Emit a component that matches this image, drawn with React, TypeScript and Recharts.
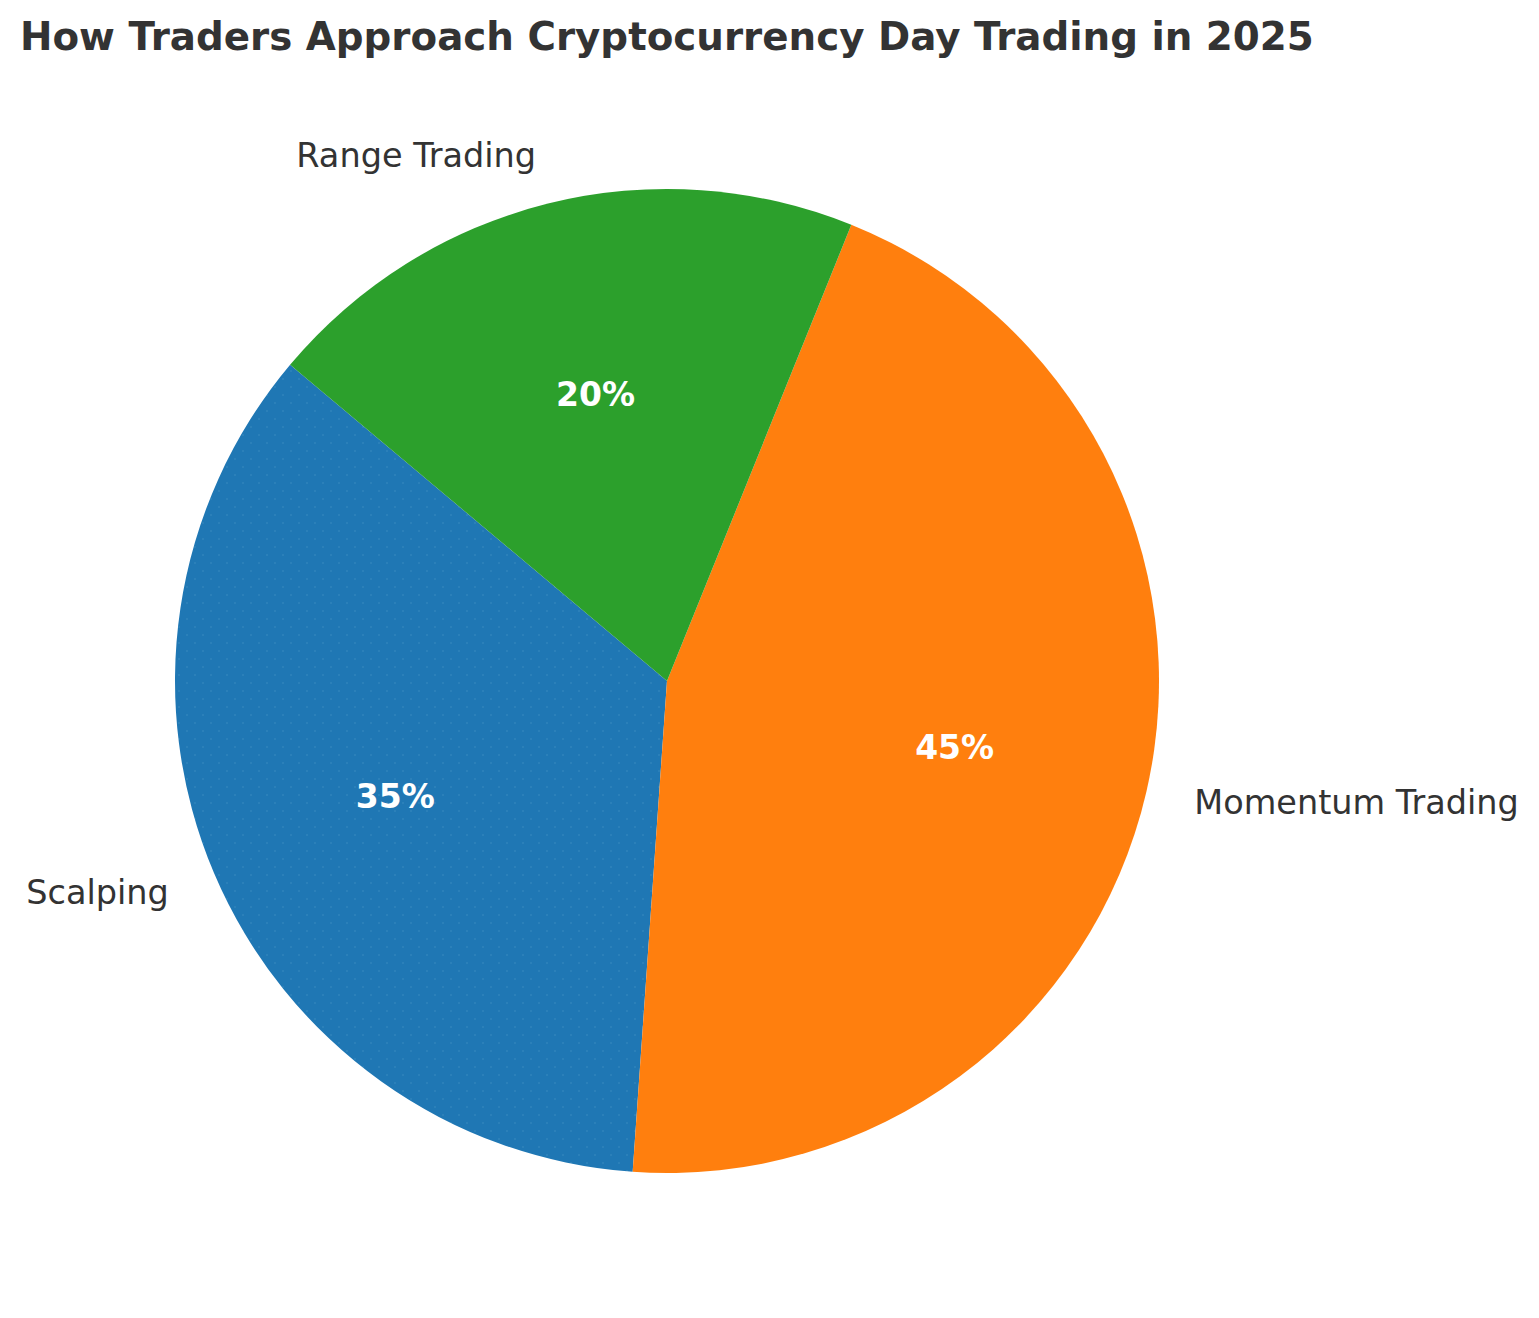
import React from "react";
import { PieChart, Pie, Cell } from "recharts";

const categories = ["Scalping", "Momentum Trading", "Range Trading"];
const shares = [35, 45, 20];
const colors = ["#1f77b4", "#ff7f0e", "#2ca02c"];

const data = categories.map((name, i) => ({ name, value: shares[i] }));

const RAD = Math.PI / 180;

const renderLabel = (props: any) => {
  const { cx, cy, midAngle, outerRadius, percent, name, index } = props;
  const cos = Math.cos(-midAngle * RAD);
  const sin = Math.sin(-midAngle * RAD);
  const ox = cx + outerRadius * 1.1 * cos;
  const oy = cy + outerRadius * 1.1 * sin;
  const ix = cx + outerRadius * 0.6 * cos;
  const iy = cy + outerRadius * 0.6 * sin;
  return (
    <g key={`lbl-${index}`}>
      <text
        x={ox}
        y={oy}
        textAnchor={cos >= 0 ? "start" : "end"}
        dominantBaseline="central"
        fill="#333333"
        fontSize={33.5}
        fontFamily="DejaVu Sans"
      >
        {name}
      </text>
      <text
        x={ix}
        y={iy}
        textAnchor="middle"
        dominantBaseline="central"
        fill="#ffffff"
        fontSize={33}
        fontWeight="bold"
        fontFamily="DejaVu Sans"
      >
        {`${Math.round(percent * 100)}%`}
      </text>
    </g>
  );
};

export default function App() {
  return (
    <div style={{ position: "absolute", left: 0, top: 0, width: 1539, height: 1318, background: "#ffffff" }}>
      <PieChart width={1539} height={1318} margin={{ top: 0, right: 0, bottom: 0, left: 0 }}>
        <defs>
          <pattern id="dots" width="16" height="16" patternUnits="userSpaceOnUse">
            <rect width="16" height="16" fill="#1f77b4" />
            <circle cx="3" cy="3" r="0.7" fill="#3f8fc2" />
            <circle cx="11" cy="11" r="0.7" fill="#3f8fc2" />
          </pattern>
        </defs>
        <text
          x={20}
          y={50}
          textAnchor="start"
          fill="#333333"
          fontSize={38.8}
          fontWeight="bold"
          fontFamily="DejaVu Sans"
        >
          How Traders Approach Cryptocurrency Day Trading in 2025
        </text>
        <Pie
          data={data}
          dataKey="value"
          nameKey="name"
          cx={667}
          cy={681}
          innerRadius={0}
          outerRadius={492}
          startAngle={140}
          endAngle={500}
          stroke="none"
          label={renderLabel}
          labelLine={false}
          isAnimationActive={false}
        >
          {data.map((d, i) => (
            <Cell key={d.name} fill={i === 0 ? "url(#dots)" : colors[i]} />
          ))}
        </Pie>
      </PieChart>
    </div>
  );
}
